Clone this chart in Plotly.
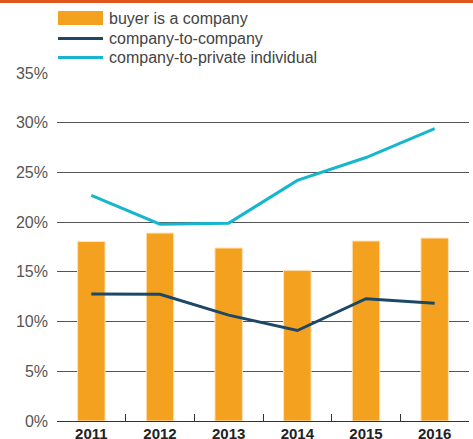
import plotly.graph_objects as go

years = ["2011", "2012", "2013", "2014", "2015", "2016"]
buyer_company = [18.05, 18.9, 17.4, 15.15, 18.1, 18.4]
company_to_company = [12.77, 12.74, 10.65, 9.1, 12.3, 11.85]
company_to_private = [22.7, 19.8, 19.9, 24.2, 26.5, 29.4]
y_ticks = [0, 5, 10, 15, 20, 25, 30, 35]
y_tick_labels = ["0%", "5%", "10%", "15%", "20%", "25%", "30%", "35%"]

series_names = ["buyer is a company", "company-to-company", "company-to-private individual"]
series_colors = ["#f4a11f", "#1c4766", "#17b6cf"]

W, H = 473, 439
L, R, T, B = 57, 4, 73, 18
PW, PH = W - L - R, H - T - B


def px_x(px):
    return (px - L) / PW


def px_y(py):
    return (H - B - py) / PH


fig = go.Figure()
fig.add_trace(go.Bar(
    x=years, y=buyer_company, name=series_names[0],
    marker=dict(color=series_colors[0], line=dict(color="#fde3bb", width=1)),
))
fig.add_trace(go.Scatter(
    x=years, y=company_to_company, name=series_names[1], mode="lines",
    line=dict(color=series_colors[1], width=3),
))
fig.add_trace(go.Scatter(
    x=years, y=company_to_private, name=series_names[2], mode="lines",
    line=dict(color=series_colors[2], width=3),
))

# manual legend (swatches + text) in the top margin
shapes = [
    dict(type="rect", xref="paper", yref="paper",
         x0=-0.2, x1=1.1, y0=px_y(3), y1=px_y(0),
         fillcolor="#e0561c", line=dict(width=0)),
    dict(type="rect", xref="paper", yref="paper",
         x0=px_x(58), x1=px_x(103), y0=px_y(25), y1=px_y(11),
         fillcolor=series_colors[0], line=dict(width=0)),
    dict(type="line", xref="paper", yref="paper",
         x0=px_x(58), x1=px_x(103), y0=px_y(38.5), y1=px_y(38.5),
         line=dict(color=series_colors[1], width=3)),
    dict(type="line", xref="paper", yref="paper",
         x0=px_x(58), x1=px_x(103), y0=px_y(57.5), y1=px_y(57.5),
         line=dict(color=series_colors[2], width=3)),
]
annotations = []
for name, ypx in zip(series_names, [18, 38.5, 57.5]):
    annotations.append(dict(
        text=name, xref="paper", yref="paper",
        x=px_x(107), y=px_y(ypx), xanchor="left", yanchor="middle",
        showarrow=False, font=dict(size=16, color="#444"),
    ))

fig.update_layout(
    width=W, height=H,
    margin=dict(l=L, r=R, t=T, b=B, autoexpand=False),
    paper_bgcolor="white", plot_bgcolor="white",
    font=dict(family="Liberation Sans, Arial, sans-serif", color="#555"),
    bargap=0.6,
    showlegend=False,
    xaxis=dict(
        type="category", showgrid=False,
        showline=True, linecolor="#333", linewidth=1,
        ticks="inside", ticklen=7, tickcolor="#333", tickwidth=1,
        tickson="boundaries",
        tickfont=dict(size=15, color="#222", family="Liberation Sans, Arial, sans-serif", weight="bold"),
        ticklabelstandoff=-1,
        fixedrange=True,
    ),
    yaxis=dict(
        range=[0, 35], tickvals=y_ticks, ticktext=y_tick_labels,
        showgrid=True, gridcolor="#555", gridwidth=1,
        zeroline=False, showline=False,
        tickfont=dict(size=16, color="#555"),
        ticklabelstandoff=8,
        fixedrange=True,
    ),
    shapes=shapes,
    annotations=annotations,
)

fig.write_html(
    "out.html",
    config={"displayModeBar": False},
    post_script="document.body.style.margin='0';document.body.style.overflow='hidden';",
)
